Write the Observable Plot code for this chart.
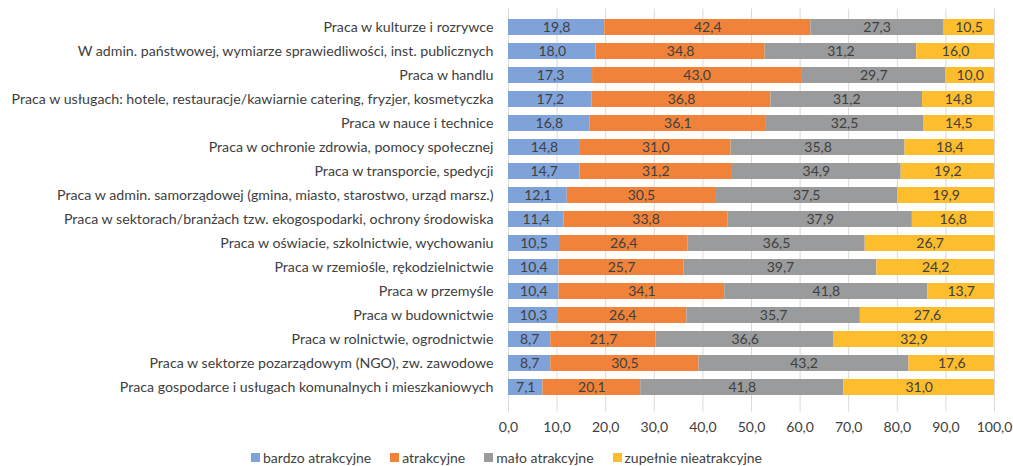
<!DOCTYPE html>
<html>
<head>
<meta charset="utf-8">
<script src="https://cdn.jsdelivr.net/npm/d3@7"></script>
<script src="https://cdn.jsdelivr.net/npm/@observablehq/plot@0.6"></script>
<style>
  body { margin: 0; background: #fff; font-family: Lato, "Open Sans", sans-serif; }
  #legend { display: flex; justify-content: center; gap: 19px; height: 26px; align-items: center; padding-top: 4px; font-size: 14px; color: #404040; }
  #legend .item { display: flex; align-items: center; gap: 3px; }
  #legend .sw { width: 9px; height: 9px; display: inline-block; }
</style>
</head>
<body>
<div id="chart"></div>
<div id="legend"></div>
<script>
const categories = [
  "Praca w kulturze i rozrywce",
  "W admin. państwowej, wymiarze sprawiedliwości, inst. publicznych",
  "Praca w handlu",
  "Praca w usługach: hotele, restauracje/kawiarnie catering, fryzjer, kosmetyczka",
  "Praca w nauce i technice",
  "Praca w ochronie zdrowia, pomocy społecznej",
  "Praca w transporcie, spedycji",
  "Praca w admin. samorządowej (gmina, miasto, starostwo, urząd marsz.)",
  "Praca w sektorach/branżach tzw. ekogospodarki, ochrony środowiska",
  "Praca w oświacie, szkolnictwie, wychowaniu",
  "Praca w rzemiośle, rękodzielnictwie",
  "Praca w przemyśle",
  "Praca w budownictwie",
  "Praca w rolnictwie, ogrodnictwie",
  "Praca w sektorze pozarządowym (NGO), zw. zawodowe",
  "Praca gospodarce i usługach komunalnych i mieszkaniowych"
];
const seriesNames = ["bardzo atrakcyjne", "atrakcyjne", "mało atrakcyjne", "zupełnie nieatrakcyjne"];
const bardzo = [19.8, 18.0, 17.3, 17.2, 16.8, 14.8, 14.7, 12.1, 11.4, 10.5, 10.4, 10.4, 10.3, 8.7, 8.7, 7.1];
const atrakcyjne = [42.4, 34.8, 43.0, 36.8, 36.1, 31.0, 31.2, 30.5, 33.8, 26.4, 25.7, 34.1, 26.4, 21.7, 30.5, 20.1];
const malo = [27.3, 31.2, 29.7, 31.2, 32.5, 35.8, 34.9, 37.5, 37.9, 36.5, 39.7, 41.8, 35.7, 36.6, 43.2, 41.8];
const zupelnie = [10.5, 16.0, 10.0, 14.8, 14.5, 18.4, 19.2, 19.9, 16.8, 26.7, 24.2, 13.7, 27.6, 32.9, 17.6, 31.0];
const xTicks = [0, 10, 20, 30, 40, 50, 60, 70, 80, 90, 100];
const colors = ["#7fa2d8", "#f08339", "#9a9b9c", "#fdbd2c"];

const seriesValues = [bardzo, atrakcyjne, malo, zupelnie];
const data = [];
categories.forEach((c, i) => {
  seriesNames.forEach((s, j) => data.push({cat: c, series: s, value: seriesValues[j][i]}));
});
const fmt = v => v.toFixed(1).replace(".", ",");

const chart = Plot.plot({
  width: 1013,
  height: 440,
  marginTop: 8.6,
  marginBottom: 33.5,
  marginLeft: 508,
  marginRight: 19,
  style: {fontFamily: "Lato, 'Open Sans', sans-serif", fontSize: "14px", color: "#404040", background: "#fff"},
  x: {domain: [0, 100], ticks: xTicks, tickFormat: fmt, label: null, tickSize: 5, tickPadding: 10},
  y: {domain: categories, paddingInner: 0.32, paddingOuter: 0.16, label: null, tickSize: 0, tickPadding: 14},
  color: {domain: seriesNames, range: colors},
  marks: [
    Plot.gridX(xTicks, {stroke: "#d9d9d9", strokeOpacity: 1}),
    Plot.ruleX([0], {stroke: "#d9d9d9"}),
    Plot.axisX({ticks: xTicks, tickFormat: fmt, stroke: "#d9d9d9", tickSize: 5, tickPadding: 10, fill: "#404040", label: null}),
    Plot.axisY({tickSize: 0, tickPadding: 15, fill: "#404040", fontSize: 14.2, label: null}),
    Plot.barX(data, {x: "value", y: "cat", fill: "series", order: null}),
    Plot.textX(data, Plot.stackX({x: "value", y: "cat", z: "series", order: null, text: d => fmt(d.value), fill: "#404040", fontSize: 14}))
  ]
});
document.getElementById("chart").appendChild(chart);

const legend = document.getElementById("legend");
seriesNames.forEach((s, i) => {
  const item = document.createElement("div");
  item.className = "item";
  const sw = document.createElement("span");
  sw.className = "sw";
  sw.style.background = colors[i];
  const t = document.createElement("span");
  t.textContent = s;
  item.appendChild(sw);
  item.appendChild(t);
  legend.appendChild(item);
});
</script>
</body>
</html>
